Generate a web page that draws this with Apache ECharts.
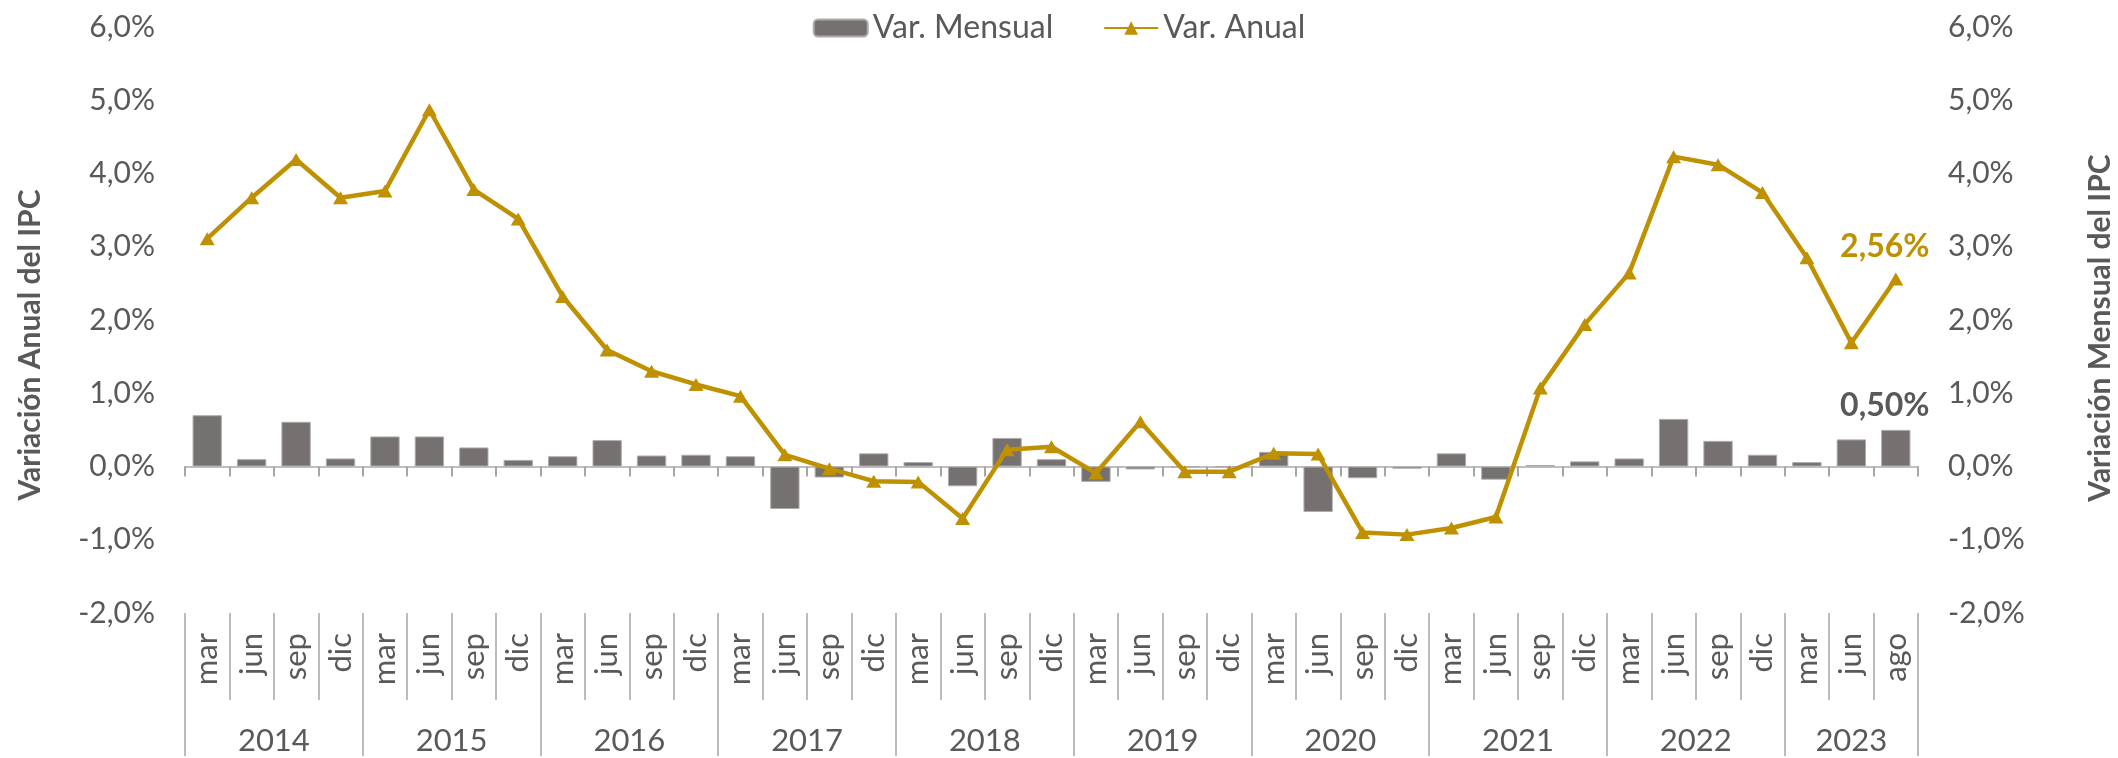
<!DOCTYPE html>
<html>
<head>
<meta charset="utf-8">
<script src="https://cdn.jsdelivr.net/npm/echarts@6/dist/echarts.min.js"></script>
<style>
  html, body { margin: 0; padding: 0; background: #fff; }
  #chart { width: 2118px; height: 758px; }
</style>
</head>
<body>
<div id="chart"></div>
<script>
// categorías: años y meses (trimestral, último dato agosto 2023)
const years = ['2014', '2015', '2016', '2017', '2018', '2019', '2020', '2021', '2022', '2023'];
const monthsPerYear = [4, 4, 4, 4, 4, 4, 4, 4, 4, 3];
const months = [
  'mar', 'jun', 'sep', 'dic', 'mar', 'jun', 'sep', 'dic', 'mar', 'jun', 'sep', 'dic',
  'mar', 'jun', 'sep', 'dic', 'mar', 'jun', 'sep', 'dic', 'mar', 'jun', 'sep', 'dic',
  'mar', 'jun', 'sep', 'dic', 'mar', 'jun', 'sep', 'dic', 'mar', 'jun', 'sep', 'dic',
  'mar', 'jun', 'ago'
];

// variación mensual del IPC (%)
const varMensual = [
  0.70, 0.10, 0.61, 0.11, 0.41, 0.41, 0.26, 0.09, 0.14, 0.36, 0.15, 0.16,
  0.14, -0.58, -0.15, 0.18, 0.06, -0.27, 0.39, 0.10, -0.21, -0.04, -0.01, -0.01,
  0.20, -0.62, -0.16, -0.03, 0.18, -0.18, 0.02, 0.07, 0.11, 0.65, 0.35, 0.16,
  0.06, 0.37, 0.50
];

// variación anual del IPC (%)
const varAnual = [
  3.11, 3.67, 4.19, 3.67, 3.76, 4.87, 3.78, 3.38, 2.32, 1.59, 1.30, 1.12,
  0.96, 0.16, -0.03, -0.20, -0.21, -0.71, 0.23, 0.27, -0.09, 0.61, -0.07, -0.07,
  0.18, 0.17, -0.90, -0.93, -0.84, -0.69, 1.07, 1.94, 2.64, 4.23, 4.12, 3.74,
  2.85, 1.69, 2.56
];

// eje Y: -2% a 6%
const yMin = -2;
const yMax = 6;
const yStep = 1;

const FONT = 'Lato';
const GRAY_TXT = '#595959';
const GOLD = '#BF9000';
const BAR = '#767171';
const AXIS = '#a6a6a6';

const pct1 = v => v.toFixed(1).replace('.', ',') + '%';
const pct2 = v => v.toFixed(2).replace('.', ',') + '%';

// limites y centros de cada año sobre el eje de meses
const yearEdges = [0];
monthsPerYear.forEach(n => yearEdges.push(yearEdges[yearEdges.length - 1] + n));
const yearCenters = monthsPerYear.map((n, i) => yearEdges[i] + n / 2);

const last = months.length - 1;

const chart = echarts.init(document.getElementById('chart'));

const yAxisBase = {
  type: 'value',
  min: yMin,
  max: yMax,
  interval: yStep,
  axisLine: { show: false },
  axisTick: { show: false },
  splitLine: { show: false },
  axisLabel: {
    formatter: pct1,
    fontFamily: FONT,
    fontSize: 30,
    color: GRAY_TXT,
    margin: 30
  }
};

chart.setOption({
  animation: false,
  backgroundColor: '#fff',
  grid: { left: 185, right: 200, top: 27, bottom: 145, containLabel: false },
  legend: {
    data: ['Var. Mensual', 'Var. Anual'],
    top: 7,
    left: 'center',
    itemWidth: 54,
    itemHeight: 17,
    itemGap: 50,
    textStyle: { fontFamily: FONT, fontSize: 32, color: GRAY_TXT }
  },
  xAxis: [
    {
      // línea del cero con marcas entre categorías
      type: 'category',
      data: months,
      position: 'bottom',
      axisLine: { onZero: true, lineStyle: { color: '#bfbfbf', width: 2 } },
      axisTick: { show: true, interval: 0, length: 10, lineStyle: { color: AXIS, width: 2 } },
      axisLabel: { show: false }
    },
    {
      // etiquetas de meses abajo
      type: 'category',
      data: months,
      position: 'bottom',
      axisLine: { show: false, onZero: false },
      axisTick: { show: true, interval: 0, length: 87, lineStyle: { color: AXIS, width: 1.5 } },
      axisLabel: {
        interval: 0,
        rotate: 90,
        margin: 20,
        fontFamily: FONT,
        fontSize: 31,
        color: GRAY_TXT
      }
    },
    {
      // etiquetas de años
      type: 'value',
      min: 0,
      max: months.length,
      position: 'bottom',
      axisLine: { show: false, onZero: false },
      splitLine: { show: false },
      axisTick: { show: true, customValues: yearEdges, length: 143, lineStyle: { color: AXIS, width: 1.5 } },
      axisLabel: {
        customValues: yearCenters,
        formatter: v => years[yearCenters.indexOf(v)],
        margin: 112,
        fontFamily: FONT,
        fontSize: 31,
        color: GRAY_TXT
      }
    }
  ],
  yAxis: [
    Object.assign({}, yAxisBase, { position: 'left' }),
    Object.assign({}, yAxisBase, { position: 'right' })
  ],
  graphic: [
    {
      type: 'text',
      x: 30,
      y: 345,
      rotation: Math.PI / 2,
      style: {
        text: 'Variación Anual del IPC',
        align: 'center',
        verticalAlign: 'middle',
        font: 'bold 30px Lato',
        fill: GRAY_TXT
      }
    },
    {
      type: 'text',
      x: 2100,
      y: 328,
      rotation: Math.PI / 2,
      style: {
        text: 'Variación Mensual del IPC',
        align: 'center',
        verticalAlign: 'middle',
        font: 'bold 30px Lato',
        fill: GRAY_TXT
      }
    }
  ],
  series: [
    {
      name: 'Var. Mensual',
      type: 'bar',
      xAxisIndex: 0,
      yAxisIndex: 1,
      barCategoryGap: '34%',
      itemStyle: { color: BAR, borderColor: '#aeaaaa', borderWidth: 1 },
      label: {
        show: false,
        position: 'top',
        offset: [-11, -3],
        formatter: p => pct2(p.value),
        fontFamily: FONT,
        fontWeight: 'bold',
        fontSize: 32,
        color: GRAY_TXT
      },
      data: varMensual.map((v, i) => i === last ? { value: v, label: { show: true } } : v)
    },
    {
      name: 'Var. Anual',
      type: 'line',
      xAxisIndex: 0,
      yAxisIndex: 0,
      symbol: 'triangle',
      symbolSize: [15, 13],
      lineStyle: { color: GOLD, width: 4.5 },
      itemStyle: { color: GOLD },
      label: {
        show: false,
        position: 'top',
        offset: [-11, -5],
        formatter: p => pct2(p.value),
        fontFamily: FONT,
        fontWeight: 'bold',
        fontSize: 32,
        color: GOLD
      },
      data: varAnual.map((v, i) => i === last ? { value: v, label: { show: true } } : v)
    }
  ]
});
</script>
</body>
</html>
